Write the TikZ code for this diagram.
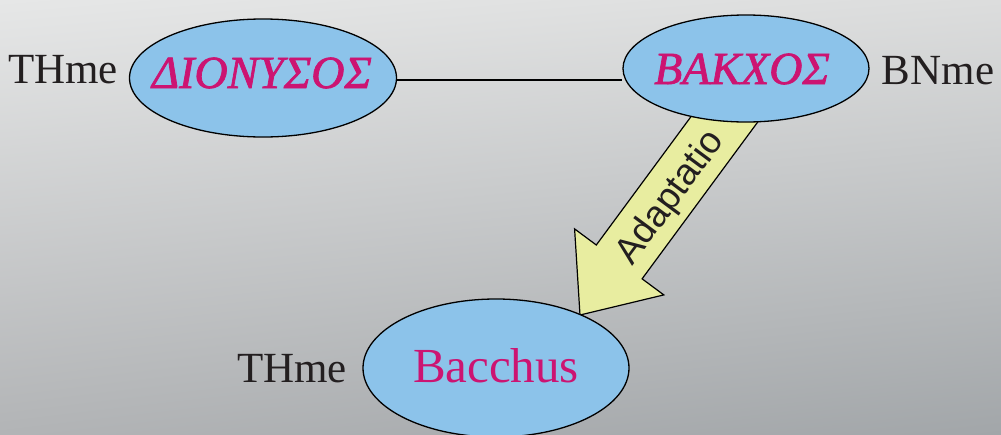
\documentclass[tikz,border=0pt]{standalone}
\usepackage{fontspec}
\setmainfont{Liberation Serif}
\newfontfamily\arialfont{Liberation Sans}
\newfontfamily\grkfont{Liberation Serif}[FakeBold=1.6]
\usetikzlibrary{shapes.geometric,shadings}
\definecolor{ellfill}{HTML}{8CC3EA}
\definecolor{magtext}{HTML}{CC1472}
\definecolor{labtext}{HTML}{231F20}
\definecolor{arrfill}{HTML}{E8EDA0}
\definecolor{bgUL}{HTML}{E6E7E7}
\definecolor{bgUR}{HTML}{DCDDDD}
\definecolor{bgLL}{HTML}{B2B4B6}
\definecolor{bgLR}{HTML}{A2A6A9}
\tikzset{
  ell/.style={draw=black, line width=1.3pt, fill=ellfill, ellipse},
  greek/.style={font=\grkfont\fontsize{46}{52}\selectfont\itshape, text=magtext, anchor=base},
  latin/.style={font=\fontsize{49}{56}\selectfont, text=magtext, anchor=base},
  lab/.style={font=\fontsize{43}{50}\selectfont, text=labtext, anchor=base},
  fatarrow/.style={draw=black, line width=1.2pt, fill=arrfill, line join=miter},
  arrlabel/.style={font=\arialfont\fontsize{37}{42}\selectfont, text=labtext},
  link/.style={draw=black, line width=1.3pt}
}
\begin{document}
\begin{tikzpicture}[x=1pt,y=-1pt]
\useasboundingbox (0,0) rectangle (1001,434);
\shade[upper left=bgUL, upper right=bgUR, lower left=bgLL, lower right=bgLR] (0,0) rectangle (1001,434);
% fat arrow (drawn below ellipses)
\coordinate (tailL) at (721.1,75.8);
\coordinate (tailR) at (766.9,109.6);
\coordinate (tip) at (580,315);
\draw[fatarrow] (tailL) -- (596.3,245) -- (574.6,228.9) -- (tip) -- (663.8,294.9) -- (642.1,278.8) -- (tailR) -- cycle;
\node[arrlabel, rotate=53.5] (adapt) at (671,198) {Adaptatio};
% ellipses
\node[ell, minimum width=267pt, minimum height=118pt] (dion) at (263,78) {};
\node[ell, minimum width=246pt, minimum height=107pt] (bakx) at (746,68.5) {};
\node[ell, minimum width=266pt, minimum height=138pt] (bacc) at (496,368) {};
\draw[link] (dion.east |- 0,80) -- (bakx.west |- 0,80);
% texts
\node[greek] (tdion) at (262,88) {ΔΙΟΝΥΣΟΣ};
\node[greek] (tbakx) at (742,84) {ΒΑΚΧΟΣ};
\node[latin] (tbacc) at (496,382) {Bacchus};
\node[lab] (l1) at (63,83) {THme};
\node[lab] (l2) at (938,84) {BNme};
\node[lab] (l3) at (292,382) {THme};
\end{tikzpicture}
\end{document}
